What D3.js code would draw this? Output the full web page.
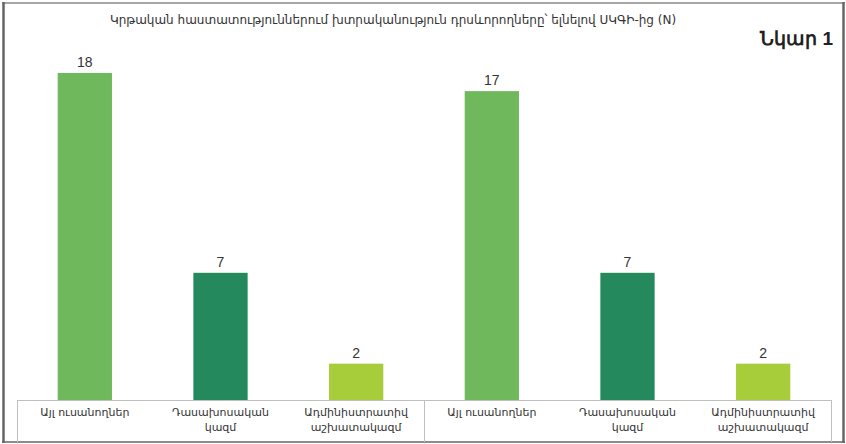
<!DOCTYPE html>
<html><head><meta charset="utf-8">
<script src="https://cdn.jsdelivr.net/npm/d3@7"></script>
<style>body{margin:0;background:#fff}svg{display:block}</style>
</head><body><svg id="c" width="846" height="444"></svg>
<script>
const categories = ["Այլ ուսանողներ", "Դասախոսական կազմ", "Ադմինիստրատիվ աշխատակազմ", "Այլ ուսանողներ", "Դասախոսական կազմ", "Ադմինիստրատիվ աշխատակազմ"];
const categoryLines = [["Այլ ուսանողներ"], ["Դասախոսական", "կազմ"], ["Ադմինիստրատիվ", "աշխատակազմ"], ["Այլ ուսանողներ"], ["Դասախոսական", "կազմ"], ["Ադմինիստրատիվ", "աշխատակազմ"]];
const groups = [0, 0, 0, 1, 1, 1];
const values = [18, 7, 2, 17, 7, 2];
const colors = ["#6fb95c", "#248a5d", "#a7ce3a", "#6fb95c", "#248a5d", "#a7ce3a"];
const title = "Կրթական հաստատություններում խտրականություն դրսևորողները՝ ելնելով  ՍԿԳԻ-ից (N)";
const figLabel = "Նկար 1";

const svg = d3.select("#c");
// outer frame
svg.append("line").attr("x1",2).attr("x2",845).attr("y1",3).attr("y2",3).attr("stroke","#a6a6a6").attr("stroke-width",2);
svg.append("line").attr("x1",2).attr("x2",845).attr("y1",442).attr("y2",442).attr("stroke","#8c8c8c").attr("stroke-width",2);
svg.append("line").attr("x1",3.5).attr("x2",3.5).attr("y1",2).attr("y2",443).attr("stroke","#666").attr("stroke-width",2.5);
svg.append("line").attr("x1",843.5).attr("x2",843.5).attr("y1",2).attr("y2",443).attr("stroke","#666").attr("stroke-width",2.5);

const left = 17, right = 831, bottom = 400;
const x = d3.scaleBand().domain(d3.range(categories.length)).range([left, right]).paddingInner(0.6).paddingOuter(0.3);
const y = d3.scaleLinear().domain([0, 20]).range([bottom, bottom - 18.17*20]);

svg.append("text").attr("x", 393).attr("y", 24).attr("text-anchor","middle")
  .attr("font-family","'DejaVu Sans', 'Noto Sans', sans-serif").attr("font-size",12).attr("fill","#333").text(title);
svg.append("text").attr("x", 833).attr("y", 45).attr("text-anchor","end")
  .attr("font-family","'Liberation Sans', Arial, sans-serif").attr("font-weight","bold").attr("font-size",19).attr("fill","#222").text(figLabel);

svg.selectAll("rect.bar").data(values).join("rect").attr("class","bar")
  .attr("x",(d,i)=>x(i)).attr("width",x.bandwidth())
  .attr("y",d=>y(d)).attr("height",d=>y(0)-y(d)).attr("fill",(d,i)=>colors[i]);

svg.selectAll("text.val").data(values).join("text").attr("class","val")
  .attr("x",(d,i)=>x(i)+x.bandwidth()/2).attr("y",d=>y(d)-6).attr("text-anchor","middle")
  .attr("font-family","'Liberation Sans', Arial, sans-serif").attr("font-size",14).attr("fill","#333").text(d=>d);

// category axis box
svg.append("line").attr("x1",left).attr("x2",right).attr("y1",bottom+0.5).attr("y2",bottom+0.5).attr("stroke","#bfbfbf");
const step = (right-left)/categories.length;
[left, left+3*step, right].forEach(px=>{
  svg.append("line").attr("x1",Math.round(px)+0.5).attr("x2",Math.round(px)+0.5).attr("y1",bottom).attr("y2",442).attr("stroke","#bfbfbf");
});
const cat = svg.selectAll("text.cat").data(categoryLines).join("text").attr("class","cat")
  .attr("text-anchor","middle").attr("font-family","'DejaVu Sans', 'Noto Sans', sans-serif").attr("font-size",11).attr("fill","#333");
cat.each(function(lines,i){
  const cx = x(i)+x.bandwidth()/2;
  d3.select(this).selectAll("tspan").data(lines).join("tspan").attr("x",cx).attr("y",(l,j)=>416+j*15).text(l=>l);
});
</script></body></html>
